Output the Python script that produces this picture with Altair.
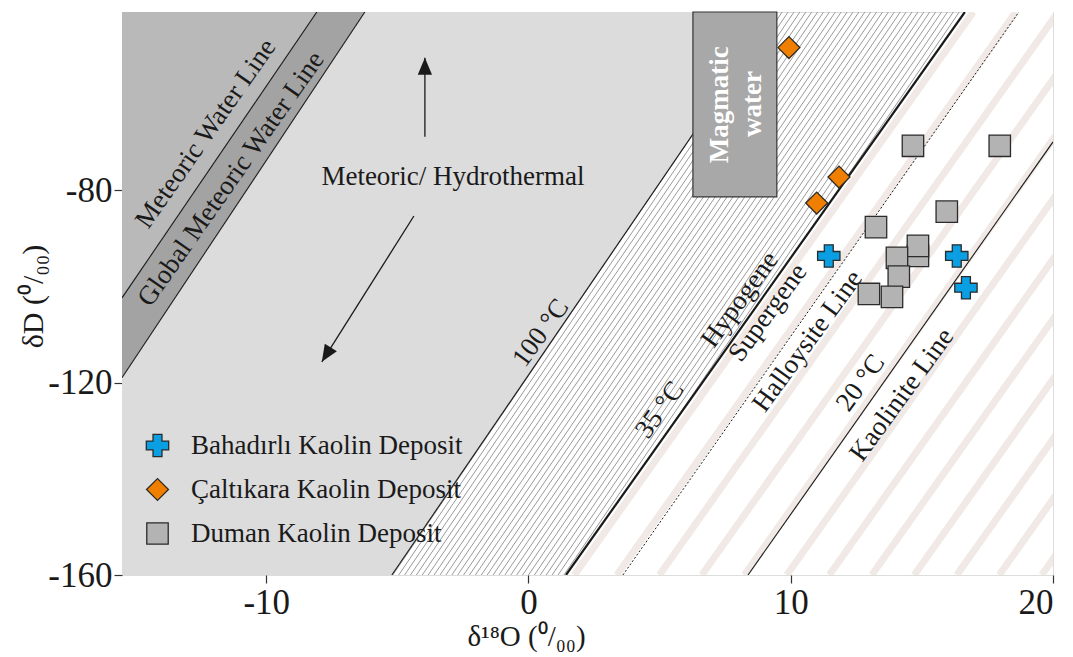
import altair as alt
import numpy as np
import pandas as pd

# ---------------- axis ranges ----------------
X_DOMAIN = [-15.5, 20]
Y_DOMAIN = [-160, -43]
Y_BOT, Y_TOP = Y_DOMAIN
X_TICKS = [-10, 0, 10, 20]
Y_TICKS = [-80, -120, -160]

# ---------------- samples ----------------
deposits = ["Bahadırlı Kaolin Deposit", "Çaltıkara Kaolin Deposit", "Duman Kaolin Deposit"]
dep_fill = ["#0a9ee3", "#f07f00", "#b3b3b3"]
dep_shape = ["cross", "diamond", "square"]
dep_size = [500, 460, 400]

bah_x = [11.45, 16.33, 16.68]
bah_y = [-93.7, -93.7, -100.3]
cal_x = [9.93, 11.84, 10.99]
cal_y = [-50.4, -77.3, -82.7]
dum_x = [14.66, 17.97, 15.95, 13.25, 14.85, 14.85, 14.05, 14.12, 12.98, 13.86]
dum_y = [-70.8, -70.8, -84.5, -87.7, -93.7, -91.6, -94.1, -98.0, -101.6, -102.2]

# ---------------- reference lines (end points) ----------------
line_names = ["MWL", "GMWL", "T100", "T35", "Halloysite", "Kaolinite"]
line_x1 = [-15.5, -15.5, -5.21, 1.43, 3.60, 8.37]
line_y1 = [-102.4, -119.0, -160.0, -160.0, -160.0, -160.0]
line_x2 = [-8.07, -6.24, 9.45, 16.64, 18.70, 20.0]
line_y2 = [-43.0, -43.0, -43.0, -43.0, -43.0, -70.0]
line_width = [1.1, 1.1, 1.1, 2.2, 1.0, 1.1]

# magmatic water box
box_x = [6.27, 9.47]
box_y = [-81.4, -43.0]

# annotations
ann_text = ["Meteoric Water Line", "Global Meteoric Water Line", "100 °C", "35 °C",
            "Hypogene", "Supergene", "Halloysite Line", "20 °C", "Kaolinite Line"]
ann_x = [-12.30, -11.34, 0.47, 5.01, 8.06, 9.13, 10.65, 12.67, 14.24]
ann_y = [-68.3, -77.7, -109.7, -125.7, -102.8, -105.5, -111.4, -120.1, -122.6]
ann_angle = [305, 305, 306, 306, 306, 306, 306, 306, 306]

flat_text = ["Meteoric/ Hydrothermal"]
flat_x = [-2.88]
flat_y = [-77.3]

mag_text = ["Magmatic", "water"]
mag_x = [7.30, 8.56]
mag_y = [-62.3, -62.1]

# arrows: shaft start -> tip
arr_x1 = [-3.95, -4.37]
arr_y1 = [-68.9, -85.4]
arr_x2 = [-3.95, -7.88]
arr_y2 = [-52.5, -115.7]
arr_angle = [0, 212]

# ---------------- helpers ----------------
def x_at(i, y):
    return line_x1[i] + (y - line_y1[i]) * (line_x2[i] - line_x1[i]) / (line_y2[i] - line_y1[i])

XS = alt.Scale(domain=X_DOMAIN, nice=False, zero=False)
YS = alt.Scale(domain=Y_DOMAIN, nice=False, zero=False)
FONT = "Liberation Serif"
INK = "#1a1a1a"

XA = alt.Axis(values=X_TICKS, title="δ¹⁸O (⁰/₀₀)", grid=False, domain=False,
              tickSize=8, tickColor="#333333", tickWidth=1.2,
              labelExpr="'' + datum.value",
              labelFont=FONT, labelFontSize=35, labelColor=INK, labelPadding=2,
              titleFont=FONT, titleFontSize=29, titleFontWeight="normal", titleColor=INK,
              titleX=404, titleY=70, titleAlign="center", titleBaseline="alphabetic")
YA = alt.Axis(values=Y_TICKS, title="δD (⁰/₀₀)", grid=False, domain=False,
              tickSize=8, tickColor="#333333", tickWidth=1.2,
              labelExpr="'' + datum.value",
              labelFont=FONT, labelFontSize=35, labelColor=INK, labelPadding=2,
              titleFont=FONT, titleFontSize=30, titleFontWeight="normal", titleColor=INK,
              titleX=-80, titleY=284, titleAngle=270, titleAlign="center",
              titleBaseline="alphabetic")


def X(f):
    return alt.X(f, type="quantitative", scale=XS, axis=XA)


def Y(f):
    return alt.Y(f, type="quantitative", scale=YS, axis=YA)


# ---------------- background hatch (between 100 °C and 35 °C lines) ----------------
hatch_c = np.arange(-178.0, -117.0, 1.8)
hatch = pd.DataFrame({
    "x1": (Y_BOT - hatch_c) / 8.0, "y1": Y_BOT,
    "x2": (Y_TOP - hatch_c) / 8.0, "y2": Y_TOP,
})
hatch_layer = alt.Chart(hatch).mark_rule(color="#9a9a9a", strokeWidth=1.0, clip=True).encode(
    x=X("x1"), y=Y("y1"), x2="x2", y2="y2")

# ---------------- filled regions ----------------
region_fill = ["#b9b9b9", "#a3a3a3", "#dcdcdc", "#ffffff"]
region_left = [None, 0, 1, 3]
region_right = [0, 1, 2, None]
rows = []
for k in range(4):
    for yy in (Y_BOT, Y_TOP):
        xl = -30.0 if region_left[k] is None else x_at(region_left[k], yy)
        xr = 30.0 if region_right[k] is None else x_at(region_right[k], yy)
        rows.append({"region": k, "fill": region_fill[k], "y": yy, "xl": xl, "xr": xr})
regions = pd.DataFrame(rows)
region_layer = alt.Chart(regions).mark_area(orient="horizontal", clip=True, opacity=1).encode(
    y=Y("y"), x=X("xl"), x2="xr",
    color=alt.Color("fill:N", scale=None), detail="region:N")

# ---------------- stippled stripes (parallel to 35 °C line) ----------------
t35_slope = (line_y2[3] - line_y1[3]) / (line_x2[3] - line_x1[3])
stripe_x0 = np.arange(1.75, 20.5, 1.62)
stripes = pd.DataFrame({
    "x1": stripe_x0, "y1": Y_BOT,
    "x2": stripe_x0 + (Y_TOP - Y_BOT) / t35_slope, "y2": Y_TOP,
})
stripe_layer = alt.Chart(stripes).mark_rule(color="#f1e9e5", strokeWidth=7, clip=True).encode(
    x=X("x1"), y=Y("y1"), x2="x2", y2="y2")

# ---------------- reference lines ----------------
lines = pd.DataFrame({"name": line_names, "x1": line_x1, "y1": line_y1,
                      "x2": line_x2, "y2": line_y2, "w": line_width})
solid_lines = alt.Chart(lines[lines.name != "Halloysite"]).mark_rule(color=INK, clip=True).encode(
    x=X("x1"), y=Y("y1"), x2="x2", y2="y2",
    strokeWidth=alt.StrokeWidth("w:Q", scale=None))
dotted_line = alt.Chart(lines[lines.name == "Halloysite"]).mark_rule(
    color=INK, clip=True, strokeDash=[2, 2], strokeWidth=1.0).encode(
    x=X("x1"), y=Y("y1"), x2="x2", y2="y2")

# ---------------- magmatic water box ----------------
box = pd.DataFrame({"x1": [box_x[0]], "x2": [box_x[1]], "y1": [box_y[0]], "y2": [box_y[1]]})
box_layer = alt.Chart(box).mark_rect(fill="#a8a8a8", stroke="#333333", strokeWidth=1.2).encode(
    x=X("x1"), x2="x2", y=Y("y1"), y2="y2")
mag_layer = alt.Chart(pd.DataFrame({"t": mag_text, "x": mag_x, "y": mag_y})).mark_text(
    font=FONT, fontSize=27, fontWeight="bold", color="white", angle=270,
    align="center", baseline="middle").encode(x=X("x"), y=Y("y"), text="t:N")

# ---------------- annotations ----------------
ann = pd.DataFrame({"t": ann_text, "x": ann_x, "y": ann_y, "a": ann_angle})
ann_layer = alt.Chart(ann).mark_text(font=FONT, fontSize=27, color=INK,
                                     align="center", baseline="middle").encode(
    x=X("x"), y=Y("y"), text="t:N", angle=alt.Angle("a:Q", scale=None))
flat_layer = alt.Chart(pd.DataFrame({"t": flat_text, "x": flat_x, "y": flat_y})).mark_text(
    font=FONT, fontSize=27, color=INK, align="center", baseline="middle").encode(
    x=X("x"), y=Y("y"), text="t:N")

# ---------------- arrows ----------------
arr = pd.DataFrame({"x1": arr_x1, "y1": arr_y1, "x2": arr_x2, "y2": arr_y2, "a": arr_angle})
shaft_layer = alt.Chart(arr).mark_rule(color=INK, strokeWidth=1.3).encode(
    x=X("x1"), y=Y("y1"), x2="x2", y2="y2")
head_layer = alt.Chart(arr).mark_point(
    shape="M0,0L-0.42,1L0.42,1Z", filled=True, color=INK, opacity=1, size=1156).encode(
    x=X("x2"), y=Y("y2"), angle=alt.Angle("a:Q", scale=None))

# ---------------- samples ----------------
pts = pd.DataFrame({
    "deposit": [deposits[2]] * len(dum_x) + [deposits[0]] * len(bah_x) + [deposits[1]] * len(cal_x),
    "x": dum_x + bah_x + cal_x,
    "y": dum_y + bah_y + cal_y,
})
leg = alt.Legend(title=None, orient="none", legendX=22, legendY=420,
                 labelFont=FONT, labelFontSize=27, labelColor=INK, labelLimit=400,
                 symbolSize=470, symbolStrokeColor="#2b2b2b", symbolStrokeWidth=1.3,
                 symbolOpacity=1, rowPadding=15, labelOffset=20, padding=0)
pt_layer = alt.Chart(pts).mark_point(filled=True, opacity=1, stroke="#2b2b2b", strokeWidth=1.3).encode(
    x=X("x"), y=Y("y"),
    color=alt.Color("deposit:N", scale=alt.Scale(domain=deposits, range=dep_fill), legend=leg),
    shape=alt.Shape("deposit:N", scale=alt.Scale(domain=deposits, range=dep_shape), legend=leg),
    size=alt.Size("deposit:N", scale=alt.Scale(domain=deposits, range=dep_size), legend=None),
)

chart = alt.layer(
    hatch_layer, region_layer, stripe_layer, solid_lines, dotted_line,
    box_layer, mag_layer, ann_layer, flat_layer, shaft_layer, head_layer, pt_layer,
).properties(
    width=931, height=563,
    autosize=alt.AutoSizeParams(type="none"),
    padding={"left": 114, "top": 4, "right": 12, "bottom": 80},
).configure_view(
    stroke="#2b2b2b", strokeWidth=1.5, fill="white"
).configure(background="white")

chart.save("out.html", embed_options={"renderer": "svg", "actions": False})
